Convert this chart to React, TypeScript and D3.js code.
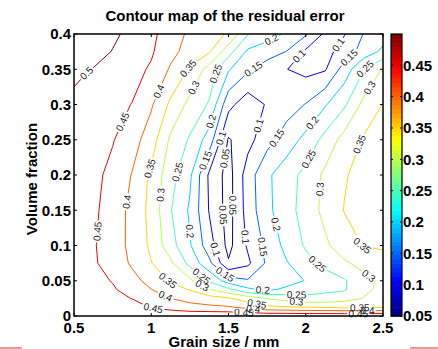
import React from 'react';
import * as d3 from 'd3';

const W = 438, H = 349;
const PL = 74, PR = 383, PT = 34, PB = 316;

// grid of the residual error (columns = grain size, rows = volume fraction, bottom row first)
const gridX = [0.5, 0.625, 0.75, 0.875, 1.0, 1.125, 1.25, 1.375, 1.5, 1.625, 1.75, 1.875, 2.0, 2.125, 2.25, 2.375, 2.5];
const gridY = [0, 0.0125, 0.025, 0.0375, 0.05, 0.075, 0.1, 0.15, 0.2, 0.25, 0.3, 0.35, 0.375, 0.4];
const residual = [
  [0.49, 0.49, 0.49, 0.49, 0.49, 0.49, 0.49, 0.49, 0.49, 0.49, 0.49, 0.49, 0.49, 0.49, 0.49, 0.49, 0.49],
  [0.485, 0.48, 0.475, 0.47, 0.447, 0.43, 0.415, 0.41, 0.405, 0.385, 0.36, 0.355, 0.348, 0.345, 0.34, 0.34, 0.345],
  [0.48, 0.47, 0.462, 0.449, 0.422, 0.40, 0.385, 0.37, 0.355, 0.325, 0.297, 0.28, 0.262, 0.265, 0.28, 0.302, 0.32],
  [0.478, 0.465, 0.455, 0.432, 0.401, 0.37, 0.347, 0.302, 0.262, 0.21, 0.19, 0.21, 0.232, 0.24, 0.245, 0.29, 0.312],
  [0.475, 0.462, 0.448, 0.416, 0.383, 0.345, 0.31, 0.243, 0.175, 0.155, 0.16, 0.18, 0.202, 0.222, 0.245, 0.285, 0.31],
  [0.47, 0.456, 0.43, 0.393, 0.352, 0.31, 0.235, 0.163, 0.055, 0.09, 0.159, 0.196, 0.232, 0.265, 0.293, 0.316, 0.335],
  [0.47, 0.455, 0.423, 0.388, 0.34, 0.27, 0.205, 0.122, 0.035, 0.107, 0.164, 0.215, 0.256, 0.291, 0.327, 0.352, 0.355],
  [0.475, 0.46, 0.426, 0.387, 0.335, 0.253, 0.193, 0.097, 0.03, 0.121, 0.188, 0.23, 0.271, 0.314, 0.352, 0.375, 0.38],
  [0.475, 0.462, 0.4375, 0.398, 0.339, 0.269, 0.209, 0.092, 0.03, 0.125, 0.191, 0.228, 0.265, 0.31, 0.345, 0.37, 0.38],
  [0.48, 0.466, 0.453, 0.421, 0.374, 0.291, 0.244, 0.177, 0.045, 0.083, 0.132, 0.173, 0.215, 0.266, 0.319, 0.355, 0.37],
  [0.49, 0.476, 0.463, 0.449, 0.406, 0.34, 0.285, 0.245, 0.115, 0.07, 0.105, 0.128, 0.152, 0.195, 0.242, 0.314, 0.352],
  [0.51, 0.498, 0.483, 0.466, 0.444, 0.394, 0.344, 0.28, 0.205, 0.158, 0.128, 0.101, 0.085, 0.095, 0.172, 0.247, 0.305],
  [0.535, 0.52, 0.498, 0.477, 0.456, 0.415, 0.38, 0.355, 0.27, 0.191, 0.17, 0.149, 0.092, 0.085, 0.119, 0.172, 0.21],
  [0.55, 0.535, 0.51, 0.485, 0.461, 0.426, 0.39, 0.37, 0.345, 0.253, 0.223, 0.193, 0.156, 0.09, 0.098, 0.152, 0.18],
];

const levels = [0.05, 0.1, 0.15, 0.2, 0.25, 0.3, 0.35, 0.4, 0.45, 0.5];
const colorTicks = [0.05, 0.1, 0.15, 0.2, 0.25, 0.3, 0.35, 0.4, 0.45];
const xTicks = [0.5, 1, 1.5, 2, 2.5];
const yTicks = [0, 0.05, 0.1, 0.15, 0.2, 0.25, 0.3, 0.35, 0.4];
const cMin = 0.05, cMax = 0.5;

// contour labels: [level, grain size, volume fraction]
const labelSpec = [
  [0.5, 0.593, 0.342], [0.45, 0.81, 0.276], [0.4, 1.035, 0.32], [0.35, 1.24, 0.351],
  [0.3, 1.283, 0.323], [0.25, 1.45, 0.342], [0.2, 1.39, 0.276], [0.15, 1.37, 0.219],
  [0.1, 1.46, 0.252], [0.05, 1.466, 0.224], [0.15, 1.66, 0.351], [0.2, 1.79, 0.387],
  [0.1, 1.95, 0.37], [0.1, 2.243, 0.38], [0.15, 2.275, 0.368], [0.25, 2.37, 0.356],
  [0.3, 2.405, 0.325], [0.1, 1.68, 0.271], [0.15, 1.80, 0.254], [0.2, 2.03, 0.276],
  [0.25, 2.006, 0.224], [0.35, 2.33, 0.245], [0.3, 2.09, 0.18], [0.05, 1.53, 0.157],
  [0.1, 1.607, 0.112], [0.15, 1.72, 0.098], [0.2, 1.79, 0.129], [0.25, 2.07, 0.072],
  [0.35, 2.36, 0.098], [0.3, 2.40, 0.055], [0.2, 1.72, 0.033], [0.25, 1.94, 0.026],
  [0.3, 1.94, 0.02], [0.35, 1.68, 0.013], [0.35, 2.35, 0.009], [0.4, 1.66, 0.009],
  [0.45, 1.6, 0.005], [0.4, 2.4, 0.008], [0.45, 2.34, 0.005], [0.45, 0.657, 0.12],
  [0.4, 0.841, 0.162], [0.35, 0.98, 0.21], [0.3, 1.057, 0.172], [0.25, 1.16, 0.205],
  [0.2, 1.25, 0.12], [0.05, 1.445, 0.143], [0.1, 1.41, 0.094], [0.15, 1.465, 0.056],
  [0.25, 1.316, 0.054], [0.3, 1.327, 0.042], [0.35, 1.10, 0.049], [0.4, 1.089, 0.027],
  [0.45, 1.013, 0.011],
];

function jet(t: number): string {
  const c = (v: number) => Math.max(0, Math.min(1, v));
  const r = c(1.5 - Math.abs(4 * t - 3));
  const g = c(1.5 - Math.abs(4 * t - 2));
  const b = c(1.5 - Math.abs(4 * t - 1));
  return d3.rgb(r * 255, g * 255, b * 255).formatHex();
}

const FONT = 'Liberation Sans, Arial, Helvetica, sans-serif';
const LABEL_SIZE = 10;

export default function App() {
  const x = d3.scaleLinear().domain([0.5, 2.5]).range([PL, PR]);
  const y = d3.scaleLinear().domain([0, 0.4]).range([PB, PT]);
  const ix = d3.scaleLinear().domain(d3.range(gridX.length)).range(gridX);
  const iy = d3.scaleLinear().domain(d3.range(gridY.length)).range(gridY);
  const cb = d3.scaleLinear().domain([cMin, cMax]).range([PB, PT]);
  const lineColor = (v: number) => jet((v - cMin) / (cMax - cMin));

  const nx = gridX.length, ny = gridY.length;
  const contours = d3.contours().size([nx, ny]).thresholds(levels)(residual.flat());
  const lines = contours.map((c: any) => ({
    level: c.value,
    rings: c.coordinates.flatMap((poly: number[][][]) =>
      poly.map((ring) => ring.map(([cx, cy]) => [x(ix(cx - 0.5)), y(iy(cy - 0.5))]))
    ),
  }));

  const placed = labelSpec.map(([lv, lx, ly]) => {
    const L = lines.find((l: any) => Math.abs(l.level - lv) < 1e-9);
    const tx = x(lx), ty = y(ly);
    let best: any = { d: Infinity, px: tx, py: ty, ring: null, i: 0, t: 0 };
    if (L) {
      for (const ring of L.rings) {
        for (let i = 0; i < ring.length - 1; i++) {
          const [ax, ay] = ring[i], [bx, by] = ring[i + 1];
          if (Math.min(ax, bx) < PL - 0.5 || Math.max(ax, bx) > PR + 0.5 ||
              Math.min(ay, by) < PT - 0.5 || Math.max(ay, by) > PB + 0.5) continue;
          const dx = bx - ax, dy = by - ay;
          const len2 = dx * dx + dy * dy;
          if (len2 === 0) continue;
          let t = ((tx - ax) * dx + (ty - ay) * dy) / len2;
          t = Math.max(0, Math.min(1, t));
          const qx = ax + t * dx, qy = ay + t * dy;
          const d = Math.hypot(tx - qx, ty - qy);
          if (d < best.d) best = { d, px: qx, py: qy, ring, i, t };
        }
      }
    }
    let a = 0;
    if (best.ring) {
      const r = best.ring as number[][];
      const cum = [0];
      for (let k = 0; k < r.length - 1; k++) cum.push(cum[k] + Math.hypot(r[k + 1][0] - r[k][0], r[k + 1][1] - r[k][1]));
      const total = cum[cum.length - 1];
      const s0 = cum[best.i] + best.t * (cum[best.i + 1] - cum[best.i]);
      const at = (s: number) => {
        s = ((s % total) + total) % total;
        let k = 0;
        while (k < cum.length - 2 && cum[k + 1] < s) k++;
        const seg = cum[k + 1] - cum[k] || 1;
        const u = (s - cum[k]) / seg;
        return [r[k][0] + u * (r[k + 1][0] - r[k][0]), r[k][1] + u * (r[k + 1][1] - r[k][1])];
      };
      const p1 = at(s0 - 8), p2 = at(s0 + 8);
      a = (Math.atan2(p2[1] - p1[1], p2[0] - p1[0]) * 180) / Math.PI;
    }
    if (a >= 90) a -= 180;
    if (a < -90) a += 180;
    const text = String(lv);
    const w = text.split('').reduce((s, ch) => s + (ch === '.' ? 0.278 : 0.556), 0) * LABEL_SIZE;
    return { level: lv, text, px: best.px, py: best.py, ang: a, w };
  });

  const nBands = 64;
  const bandStep = (cMax - cMin) / nBands;

  return (
    <svg width={W} height={H} style={{ position: 'absolute', left: 0, top: 0, background: '#fff' }} fontFamily={FONT}>
      <defs>
        <clipPath id="plotClip">
          <rect x={PL} y={PT} width={PR - PL} height={PB - PT} />
        </clipPath>
        {lines.map((l: any, i: number) => (
          <mask id={`lm${i}`} key={i} maskUnits="userSpaceOnUse" x={0} y={0} width={W} height={H}>
            <rect x={0} y={0} width={W} height={H} fill="white" />
            {placed.filter((p) => Math.abs(p.level - l.level) < 1e-9).map((p, j) => (
              <rect key={j} transform={`translate(${p.px},${p.py}) rotate(${p.ang})`}
                x={-p.w / 2 - 1.5} y={-4.5} width={p.w + 3} height={9} fill="black" />
            ))}
          </mask>
        ))}
      </defs>
      <rect x={0} y={0} width={W} height={H} fill="#fff" />

      <g clipPath="url(#plotClip)">
        {lines.map((l: any, i: number) => (
          <path key={i}
            d={l.rings.map((r: number[][]) => 'M' + r.map((p) => `${p[0].toFixed(2)},${p[1].toFixed(2)}`).join('L') + 'Z').join('')}
            fill="none" stroke={lineColor(l.level)} strokeWidth={1} strokeLinejoin="round"
            mask={`url(#lm${i})`} />
        ))}
      </g>

      {placed.map((p, i) => (
        <text key={i} transform={`translate(${p.px},${p.py}) rotate(${p.ang})`} textAnchor="middle"
          dy="0.35em" fontSize={LABEL_SIZE} fill="#222">{p.text}</text>
      ))}

      {/* axes box and ticks */}
      <rect x={PL} y={PT} width={PR - PL} height={PB - PT} fill="none" stroke="#000" strokeWidth={1.5} />
      {xTicks.map((v) => (
        <g key={'xt' + v}>
          <line x1={x(v)} x2={x(v)} y1={PB} y2={PB - 3} stroke="#000" />
          <line x1={x(v)} x2={x(v)} y1={PT} y2={PT + 3} stroke="#000" />
          <text x={x(v)} y={333} textAnchor="middle" fontSize={15} fontWeight="bold">{String(v)}</text>
        </g>
      ))}
      {yTicks.map((v) => (
        <g key={'yt' + v}>
          <line x1={PL} x2={PL + 3} y1={y(v)} y2={y(v)} stroke="#000" />
          <line x1={PR} x2={PR - 3} y1={y(v)} y2={y(v)} stroke="#000" />
          <text x={71} y={y(v)} dy="0.36em" textAnchor="end" fontSize={15} fontWeight="bold">{String(v)}</text>
        </g>
      ))}

      {/* colorbar */}
      {d3.range(nBands).map((i) => {
        const v0 = cMin + i * bandStep, v1 = v0 + bandStep;
        return <rect key={'cb' + i} x={391} y={cb(v1)} width={11} height={cb(v0) - cb(v1) + 0.6}
          fill={jet((i + 0.5) / nBands)} />;
      })}
      <rect x={391} y={PT} width={11} height={PB - PT} fill="none" stroke="#000" strokeWidth={1.2} />
      {colorTicks.map((v) => (
        <g key={'ct' + v}>
          <line x1={391} x2={393} y1={cb(v)} y2={cb(v)} stroke="#000" />
          <line x1={402} x2={400} y1={cb(v)} y2={cb(v)} stroke="#000" />
          <text x={403} y={cb(v)} dy="0.36em" fontSize={15} fontWeight="bold">{String(v)}</text>
        </g>
      ))}

      <text x={225} y={21} textAnchor="middle" fontSize={15} fontWeight="bold">Contour map of the residual error</text>
      <text x={224} y={347} textAnchor="middle" fontSize={15} fontWeight="bold">Grain size / mm</text>
      <text transform="translate(37,179) rotate(-90)" textAnchor="middle" fontSize={15} fontWeight="bold">Volume fraction</text>

      <line x1={0} x2={22} y1={348} y2={348} stroke="#d23a2a" strokeWidth={1} />
      <line x1={410} x2={438} y1={348} y2={348} stroke="#d23a2a" strokeWidth={1} />
    </svg>
  );
}
